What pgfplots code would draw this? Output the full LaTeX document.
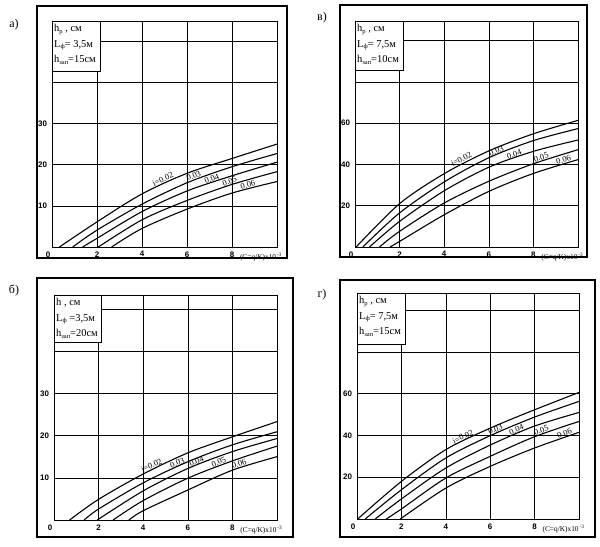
\documentclass[border=0pt]{standalone}
\usepackage{fontspec}
\setmainfont{Liberation Serif}
\setsansfont{Liberation Sans}
\usepackage{pgfplots}
\pgfplotsset{compat=1.18}

\newcommand\sub[1]{\raisebox{-0.25ex}{\fontsize{6.5}{6.5}\selectfont #1}}
\newcommand\lab[4]{\node[anchor=south,rotate=#3,inner sep=0.8bp,font=\fontsize{8.5}{8.5}\selectfont] at (axis cs:#1,#2) {#4};}

\tikzset{
  boxtxt/.style={anchor=north west, align=left, inner xsep=2bp, inner ysep=3.5bp, font=\fontsize{10.5}{15.5}\selectfont},
  xlab/.style={anchor=base west, font=\fontsize{7.4}{7.4}\selectfont, yshift=-13bp},
}
\pgfplotsset{
  panel/.style={
    scale only axis,
    anchor=south west,
    xmin=0, xmax=10, ymin=0,
    axis line style={line width=0.6bp},
    xtick={0,2,4,6,8},
    xticklabels={\makebox[0pt]{\hspace{-8bp}0},2,4,6,8},
    major tick length=0pt,
    xmajorgrids, ymajorgrids,
    grid style={black, line width=0.45bp},
    /pgf/number format/assume math mode=true,
    tick label style={font=\sffamily\bfseries\fontsize{8}{8}\selectfont},
    yticklabel style={xshift=-1.5bp},
    xticklabel style={yshift=-1bp},
    clip mode=individual,
  },
  crv/.style={black, line width=1.1bp, smooth, no marks},
}

\begin{document}
\begin{tikzpicture}[x=1bp,y=1bp]
\useasboundingbox (0,0) rectangle (600,547);
\coordinate (pa) at (52,300);
\coordinate (pv) at (355,300);
\coordinate (pb) at (54,27);
\coordinate (pg) at (357,28);

% ---------- a) ----------
\draw[line width=1.3bp] (37,289) rectangle (287,541);
\node[font=\fontsize{12}{12}\selectfont] at (14,522) {а)};
\begin{axis}[panel, at={(pa)}, width=225bp, height=226bp, ymax=54.9,
  ytick={10,20,30,40,50}, yticklabels={10,20,30,,}]
\addplot[crv] coordinates {(0.33,0) (2,6.1) (4,12.9) (6,17.9) (8,21.5) (10,25.0)};
\addplot[crv] coordinates {(0.92,0) (2,4.1) (4,10.4) (6,15.6) (8,19.5) (10,22.7)};
\addplot[crv] coordinates {(1.36,0) (2,2.1) (4,8.6) (6,13.6) (8,17.3) (10,20.6)};
\addplot[crv] coordinates {(2.06,0) (4,6.6) (6,11.3) (8,15.2) (10,18.3)};
\addplot[crv] coordinates {(2.65,0) (4,4.5) (6,9.2) (8,13.1) (10,15.9)};
\lab{5.0}{15.6}{25}{i=0.02}
\lab{6.35}{16.4}{20}{0.03}
\lab{7.15}{15.7}{19}{0.04}
\lab{7.95}{15.1}{20}{0.05}
\lab{8.75}{14.2}{15}{0.06}
\draw[fill=white, line width=0.6bp] (rel axis cs:0,1) rectangle (rel axis cs:0.213,0.779);
\node[boxtxt] at (rel axis cs:0,1) {h\sub{р} , см\\L\sub{ф}= 3,5м\\h\sub{зап}=15см};
\node[xlab] at (axis cs:8.2,0) {(C=q/K)x10\textsuperscript{\,-3}};
\end{axis}

% ---------- в) ----------
\draw[line width=1.3bp] (340,290) rectangle (587,542);
\node[font=\fontsize{12}{12}\selectfont] at (322,529) {в)};
\begin{axis}[panel, at={(pv)}, width=223bp, height=226bp, ymax=109.4,
  ytick={20,40,60,80,100}, yticklabels={20,40,60,,}]
\addplot[crv] coordinates {(0.05,0) (2,21) (4,35.5) (6,46.5) (8,54.8) (10,61.3)};
\addplot[crv] coordinates {(0.35,0) (2,16.5) (4,31.5) (6,43.2) (8,51.5) (10,57.3)};
\addplot[crv] coordinates {(0.65,0) (2,12.4) (4,27.2) (6,38.6) (8,46.3) (10,51.8)};
\addplot[crv] coordinates {(1.1,0) (2,7.6) (4,21.3) (6,31.8) (8,40.3) (10,47.1)};
\addplot[crv] coordinates {(1.57,0) (2,2.7) (4,15.6) (6,26.9) (8,35.6) (10,42.3)};
\lab{4.85}{40.7}{27}{i=0.02}
\lab{6.4}{44.8}{21}{0.03}
\lab{7.2}{43.2}{20}{0.04}
\lab{8.4}{41.7}{18}{0.05}
\lab{9.4}{40.3}{17}{0.06}
\draw[fill=white, line width=0.6bp] (rel axis cs:0,1) rectangle (rel axis cs:0.217,0.783);
\node[boxtxt] at (rel axis cs:0,1) {h\sub{р} , см\\L\sub{ф}= 7,5м\\h\sub{зап}=10см};
\node[xlab] at (axis cs:8.2,0) {(C=q/K)x10\textsuperscript{\,-3}};
\end{axis}

% ---------- б) ----------
\draw[line width=1.3bp] (37,10) rectangle (293,269);
\node[font=\fontsize{12}{12}\selectfont] at (14,257) {б)};
\begin{axis}[panel, at={(pb)}, width=223bp, height=225bp, ymax=53.3,
  ytick={10,20,30,40,50}, yticklabels={10,20,30,,}]
\addplot[crv] coordinates {(0.7,0) (2,4.9) (4,10.9) (6,15.9) (8,19.7) (10,23.3)};
\addplot[crv] coordinates {(1.35,0) (2,2.6) (4,8.8) (6,13.8) (8,17.8) (10,20.9)};
\addplot[crv] coordinates {(1.94,0) (4,6.9) (6,12.2) (8,16.2) (10,19.3)};
\addplot[crv] coordinates {(2.65,0) (4,4.6) (6,9.9) (8,14.0) (10,17.5)};
\addplot[crv] coordinates {(3.36,0) (4,2.2) (6,7.1) (8,11.8) (10,15.0)};
\lab{4.45}{12.1}{25}{i=0.02}
\lab{5.6}{12.7}{25}{0.03}
\lab{6.45}{13.1}{21}{0.04}
\lab{7.45}{12.9}{21}{0.05}
\lab{8.35}{12.4}{17}{0.06}
\draw[fill=white, line width=0.6bp] (rel axis cs:0,1) rectangle (rel axis cs:0.214,0.788);
\node[boxtxt] at (rel axis cs:0,1) {h , см\\L\sub{ф} =3,5м\\h\sub{зап}=20см};
\node[xlab] at (axis cs:8.2,0) {(C=q/K)x10\textsuperscript{\,-3}};
\end{axis}

% ---------- г) ----------
\draw[line width=1.3bp] (340,10) rectangle (595,267);
\node[font=\fontsize{12}{12}\selectfont] at (322,252) {г)};
\begin{axis}[panel, at={(pg)}, width=222bp, height=226bp, ymax=108.2,
  ytick={20,40,60,80,100}, yticklabels={20,40,60,,}]
\addplot[crv] coordinates {(0.03,0) (2,18) (4,33.2) (6,43.5) (8,52.3) (10,60.6)};
\addplot[crv] coordinates {(0.37,0) (2,14) (4,29.2) (6,39.9) (8,48.8) (10,56.3)};
\addplot[crv] coordinates {(0.82,0) (2,9.6) (4,24.4) (6,35.4) (8,44.5) (10,51.0)};
\addplot[crv] coordinates {(1.32,0) (2,4.8) (4,19.6) (6,30.0) (8,39.4) (10,46.7)};
\addplot[crv] coordinates {(1.95,0) (4,14.8) (6,25.2) (8,34.0) (10,41.5)};
\lab{4.85}{37.7}{26}{i=0.02}
\lab{6.3}{41.3}{23}{0.03}
\lab{7.25}{41.1}{23}{0.04}
\lab{8.35}{40.7}{19}{0.05}
\lab{9.4}{39.3}{19}{0.06}
\draw[fill=white, line width=0.6bp] (rel axis cs:0,1) rectangle (rel axis cs:0.216,0.774);
\node[boxtxt] at (rel axis cs:0,1) {h\sub{р} , см\\L\sub{ф}= 7,5м\\h\sub{зап}=15см};
\node[xlab] at (axis cs:8.2,0) {(C=q/K)x10\textsuperscript{\,-3}};
\end{axis}
\end{tikzpicture}
\end{document}
